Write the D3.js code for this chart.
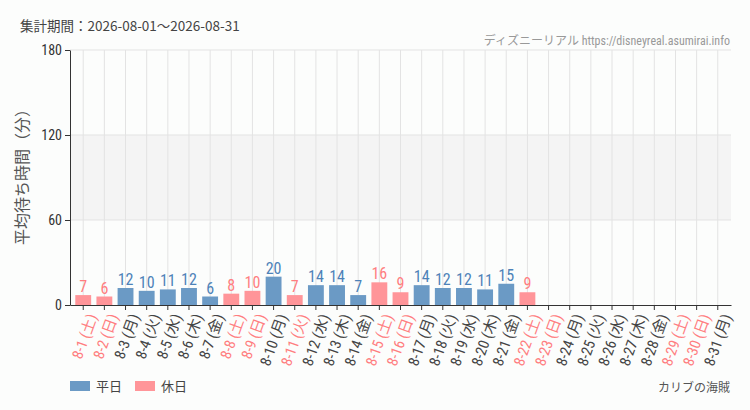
<!DOCTYPE html>
<html>
<head>
<meta charset="utf-8">
<script src="https://cdn.jsdelivr.net/npm/d3@7"></script>
<style>
  body { margin: 0; background: #fcfdfc; }
  #chart { width: 750px; height: 410px; }
  text { font-family: "Roboto Condensed", "DejaVu Sans Condensed", "Noto Sans CJK JP", sans-serif; font-stretch: condensed; }
  .jp { font-family: "Noto Sans CJK JP", sans-serif; font-stretch: normal; }
</style>
</head>
<body>
<div id="chart"></div>
<script>
// data
const days = d3.range(1, 32).map(d => "8-" + d)
const weekdays = ["土","日","月","火","水","木","金"]
const holidays = [1, 2, 8, 9, 11, 15, 16, 22, 23, 29, 30]
const waits = [7, 6, 12, 10, 11, 12, 6, 8, 10, 20, 7, 14, 14, 7, 16, 9, 14, 12, 12, 11, 15, 9]
const yTicks = [0, 60, 120, 180]

const margin = { top: 50, right: 19, bottom: 105, left: 70 }
const width = 750 - margin.left - margin.right
const height = 410 - margin.top - margin.bottom

const blue = "#6b9ac5", pink = "#ff9599"
const blueText = "#4d82b8", pinkText = "#ff7d80"

const data = days.map((d, i) => ({
  day: d,
  label: d + " (" + weekdays[i % 7] + ")",
  holiday: holidays.includes(i + 1),
  value: i < waits.length ? waits[i] : null
}))

const svg = d3.select("#chart").append("svg")
  .attr("width", 750)
  .attr("height", 410)

svg.append("text")
  .attr("class", "jp")
  .attr("x", 20).attr("y", 31)
  .style("font-size", "13.5px")
  .attr("fill", "#444")
  .text("集計期間：2026-08-01～2026-08-31")

svg.append("text")
  .attr("x", 730).attr("y", 45)
  .attr("text-anchor", "end")
  .style("font-size", "12px")
  .attr("fill", "#999")
  .text("ディズニーリアル https://disneyreal.asumirai.info")

const g = svg.append("g")
  .attr("transform", "translate(" + margin.left + "," + margin.top + ")")

const x = d3.scaleBand().domain(days).range([0, width]).padding(0.25)
const y = d3.scaleLinear().domain([0, 180]).range([height, 0])

// band 60-120
g.append("rect")
  .attr("x", 0).attr("width", width)
  .attr("y", y(120)).attr("height", y(60) - y(120))
  .attr("fill", "#f4f4f4")

// grid
g.selectAll("line.vgrid")
  .data(days)
  .join("line")
  .attr("class", "vgrid")
  .attr("x1", d => x(d) + x.bandwidth() / 2)
  .attr("x2", d => x(d) + x.bandwidth() / 2)
  .attr("y1", 0).attr("y2", height)
  .attr("stroke", "#e3e3e3")

g.selectAll("line.hgrid")
  .data(yTicks.filter(t => t > 0))
  .join("line")
  .attr("class", "hgrid")
  .attr("x1", 0).attr("x2", width)
  .attr("y1", d => y(d)).attr("y2", d => y(d))
  .attr("stroke", "#e3e3e3")

// bars
const withVal = data.filter(d => d.value != null)
g.selectAll("rect.bar")
  .data(withVal)
  .join("rect")
  .attr("class", "bar")
  .attr("x", d => x(d.day))
  .attr("width", x.bandwidth())
  .attr("y", d => y(d.value))
  .attr("height", d => height - y(d.value))
  .attr("fill", d => d.holiday ? pink : blue)

g.selectAll("text.val")
  .data(withVal)
  .join("text")
  .attr("class", "val")
  .attr("x", d => x(d.day) + x.bandwidth() / 2)
  .attr("y", d => y(d.value) - 3)
  .attr("text-anchor", "middle")
  .style("font-size", "16px")
  .attr("fill", d => d.holiday ? pinkText : blueText)
  .text(d => d.value)

// axes
const yAxis = g.append("g")
  .call(d3.axisLeft(y).tickValues(yTicks).tickSize(5).tickSizeOuter(0))
yAxis.selectAll("text").style("font-size", "14px").attr("fill", "#333")
yAxis.selectAll("line, path").attr("stroke", "#333")

const xAxis = g.append("g")
  .attr("transform", "translate(0," + height + ")")
  .call(d3.axisBottom(x).tickSize(5).tickSizeOuter(0).tickFormat((d, i) => data[i].label))
xAxis.selectAll("line, path").attr("stroke", "#333")
xAxis.selectAll("text")
  .style("font-size", "15px")
  .attr("fill", (d, i) => data[i].holiday ? pinkText : "#444")
  .attr("text-anchor", "end")
  .attr("dx", "-0.2em")
  .attr("dy", "0.55em")
  .attr("transform", "translate(0,3) rotate(-70)")

svg.append("text")
  .attr("class", "jp")
  .attr("transform", "translate(28,173) rotate(-90)")
  .attr("text-anchor", "middle")
  .style("font-size", "16px")
  .attr("fill", "#555")
  .text("平均待ち時間（分）")

// legend
const legend = svg.append("g").attr("transform", "translate(70,381)")
const items = [{ name: "平日", color: blue }, { name: "休日", color: pink }]
const li = legend.selectAll("g")
  .data(items)
  .join("g")
  .attr("transform", (d, i) => "translate(" + (i * 65) + ",0)")
li.append("rect").attr("width", 20).attr("height", 10).attr("fill", d => d.color)
li.append("text").attr("class", "jp")
  .attr("x", 26).attr("y", 10)
  .style("font-size", "13px")
  .attr("fill", "#444")
  .text(d => d.name)

svg.append("text")
  .attr("class", "jp")
  .attr("x", 730).attr("y", 392)
  .attr("text-anchor", "end")
  .style("font-size", "12px")
  .attr("fill", "#555")
  .text("カリブの海賊")
</script>
</body>
</html>
